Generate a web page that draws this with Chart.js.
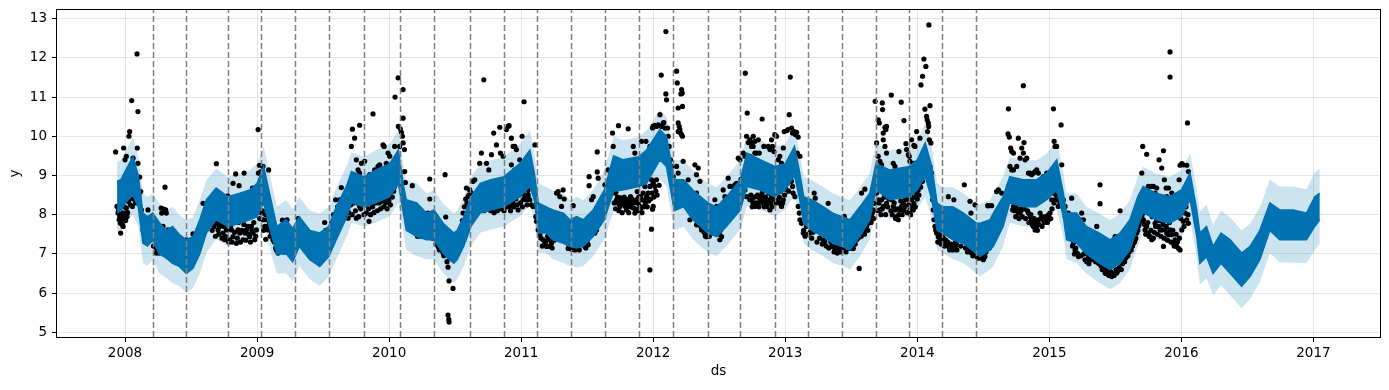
<!DOCTYPE html>
<html>
<head>
<meta charset="utf-8">
<script src="https://cdn.jsdelivr.net/npm/chart.js@4.4.0/dist/chart.umd.min.js"></script>
<style>
    html, body { margin: 0; padding: 0; background: white; }
</style>
</head>
<body>
<canvas id="grafico" width="1389" height="390"></canvas>
<script>
// eixos
const ticks_x = [2008, 2009, 2010, 2011, 2012, 2013, 2014, 2015, 2016, 2017];
const ticks_y = [5, 6, 7, 8, 9, 10, 11, 12, 13];

// pontos de mudanca (changepoints), em anos
const mudancas = [2008.210, 2008.465, 2008.778, 2009.033, 2009.291, 2009.543, 2009.813, 2010.080, 2010.338, 2010.614,
    2010.868, 2011.123, 2011.376, 2011.633, 2011.891, 2012.153, 2012.413, 2012.661, 2012.921, 2013.170,
    2013.428, 2013.685, 2013.935, 2014.190, 2014.448];

// previsao (yhat) - faixa escura e intervalo de incerteza
const datas_previsao = [2007.94, 2007.97, 2008.0, 2008.06, 2008.1, 2008.136, 2008.17, 2008.21, 2008.26, 2008.31,
    2008.36, 2008.41, 2008.465, 2008.515, 2008.566, 2008.616, 2008.69, 2008.778, 2008.87, 2008.944,
    2009.0, 2009.05, 2009.1, 2009.15, 2009.22, 2009.27, 2009.32, 2009.4, 2009.475, 2009.543,
    2009.6, 2009.68, 2009.715, 2009.81, 2009.9, 2010.005, 2010.07, 2010.11, 2010.13, 2010.21,
    2010.283, 2010.34, 2010.41, 2010.49, 2010.515, 2010.566, 2010.62, 2010.69, 2010.77, 2010.87,
    2010.99, 2011.066, 2011.1, 2011.13, 2011.19, 2011.24, 2011.32, 2011.37, 2011.42, 2011.47,
    2011.545, 2011.63, 2011.7, 2011.77, 2011.89, 2011.95, 2012.05, 2012.1, 2012.16, 2012.23,
    2012.3, 2012.414, 2012.48, 2012.555, 2012.66, 2012.71, 2012.81, 2012.92, 2013.0, 2013.07,
    2013.11, 2013.14, 2013.2, 2013.29, 2013.36, 2013.43, 2013.49, 2013.565, 2013.64, 2013.687,
    2013.79, 2013.94, 2014.0, 2014.06, 2014.11, 2014.15, 2014.19, 2014.27, 2014.35, 2014.45,
    2014.475, 2014.55, 2014.576, 2014.65, 2014.7, 2014.8, 2014.9, 2014.98, 2015.056, 2015.106,
    2015.13, 2015.207, 2015.28, 2015.38, 2015.46, 2015.535, 2015.61, 2015.67, 2015.71, 2015.81,
    2015.91, 2016.0, 2016.066, 2016.116, 2016.14, 2016.19, 2016.24, 2016.3, 2016.37, 2016.456,
    2016.52, 2016.594, 2016.67, 2016.745, 2016.846, 2016.947, 2017.01, 2017.048];
const previsao_alto = [8.85, 8.9, 9.1, 9.48, 9.0, 8.04, 7.95, 8.04, 7.8, 7.6,
    7.7, 7.5, 7.36, 7.44, 7.87, 8.38, 8.68, 8.46, 8.55, 8.63,
    8.8, 9.23, 8.46, 7.7, 7.87, 7.65, 7.95, 7.6, 7.53, 7.7,
    8.2, 8.75, 9.1, 8.97, 9.14, 9.3, 9.65, 8.72, 8.38, 8.3,
    8.04, 8.12, 7.78, 7.53, 7.6, 7.95, 8.46, 8.8, 8.89, 8.97,
    9.3, 9.65, 9.06, 8.3, 8.2, 8.12, 8.04, 7.87, 7.95, 7.87,
    8.12, 8.63, 9.5, 9.4, 9.48, 9.65, 10.17, 10.0, 8.9, 8.89,
    8.63, 8.3, 8.2, 8.46, 8.89, 9.57, 9.4, 9.23, 9.3, 9.74,
    9.06, 8.46, 8.38, 8.2, 8.04, 7.95, 7.87, 8.2, 8.55, 9.3,
    9.14, 9.23, 9.4, 9.83, 9.23, 8.3, 8.2, 8.2, 8.04, 7.78,
    7.78, 7.87, 8.04, 8.46, 8.97, 8.89, 8.89, 9.06, 9.4, 8.55,
    8.04, 8.04, 7.7, 7.53, 7.36, 7.53, 7.87, 8.46, 8.72, 8.55,
    8.46, 8.63, 9.06, 8.12, 7.53, 7.7, 7.19, 7.53, 7.36, 7.02,
    7.19, 7.6, 8.3, 8.12, 8.12, 8.04, 8.46, 8.55];
const previsao_baixo = [8.05, 8.1, 8.3, 8.5, 8.2, 7.27, 7.2, 7.35, 7.0, 6.9,
    6.76, 6.68, 6.5, 6.63, 7.0, 7.53, 7.87, 7.7, 7.78, 7.87,
    7.95, 8.3, 7.6, 7.0, 7.0, 6.8, 7.19, 6.85, 6.68, 6.93,
    7.36, 7.95, 8.3, 8.2, 8.3, 8.46, 8.8, 8.0, 7.6, 7.44,
    7.36, 7.36, 7.0, 6.76, 6.85, 7.2, 7.7, 8.04, 8.12, 8.2,
    8.46, 8.72, 8.38, 7.53, 7.53, 7.36, 7.27, 7.19, 7.15, 7.19,
    7.44, 7.87, 8.6, 8.63, 8.72, 8.8, 9.4, 9.23, 8.1, 8.2,
    7.87, 7.53, 7.44, 7.7, 8.12, 8.72, 8.63, 8.46, 8.63, 9.0,
    8.38, 7.78, 7.6, 7.44, 7.27, 7.19, 7.1, 7.44, 7.87, 8.63,
    8.38, 8.46, 8.63, 8.97, 8.38, 7.6, 7.53, 7.36, 7.27, 7.0,
    6.93, 7.1, 7.19, 7.7, 8.3, 8.2, 8.2, 8.38, 8.63, 7.95,
    7.36, 7.27, 7.0, 6.76, 6.6, 6.76, 7.1, 7.7, 8.05, 7.87,
    7.78, 7.95, 8.38, 7.45, 6.76, 6.93, 6.5, 6.76, 6.5, 6.17,
    6.42, 6.85, 7.6, 7.36, 7.36, 7.36, 7.7, 7.87];
const faixa_alto = [9.35, 9.4, 9.6, 9.98, 9.5, 8.54, 8.45, 8.54, 8.3, 8.1,
    8.2, 8.0, 7.86, 7.94, 8.37, 8.88, 9.18, 8.96, 9.05, 9.13,
    9.3, 9.73, 8.96, 8.2, 8.37, 8.15, 8.45, 8.1, 8.03, 8.2,
    8.7, 9.25, 9.6, 9.47, 9.64, 9.8, 10.15, 9.22, 8.88, 8.8,
    8.54, 8.62, 8.28, 8.03, 8.1, 8.45, 8.96, 9.3, 9.39, 9.47,
    9.8, 10.15, 9.56, 8.8, 8.7, 8.62, 8.54, 8.37, 8.45, 8.37,
    8.62, 9.13, 10.0, 9.9, 9.98, 10.15, 10.67, 10.5, 9.4, 9.39,
    9.13, 8.8, 8.7, 8.96, 9.39, 10.07, 9.9, 9.73, 9.8, 10.24,
    9.56, 8.96, 8.88, 8.7, 8.54, 8.45, 8.37, 8.7, 9.05, 9.8,
    9.64, 9.73, 9.9, 10.33, 9.73, 8.8, 8.7, 8.7, 8.54, 8.28,
    8.28, 8.37, 8.54, 8.96, 9.47, 9.39, 9.39, 9.56, 9.9, 9.05,
    8.54, 8.54, 8.2, 8.03, 7.86, 8.03, 8.37, 8.96, 9.22, 9.05,
    8.96, 9.13, 9.56, 8.65, 8.08, 8.25, 7.75, 8.1, 7.93, 7.6,
    7.77, 8.18, 8.9, 8.72, 8.72, 8.65, 9.08, 9.17];
const faixa_baixo = [7.55, 7.6, 7.8, 8.0, 7.7, 6.77, 6.7, 6.85, 6.5, 6.4,
    6.26, 6.18, 6.0, 6.13, 6.5, 7.03, 7.37, 7.2, 7.28, 7.37,
    7.45, 7.8, 7.1, 6.5, 6.5, 6.3, 6.69, 6.35, 6.18, 6.43,
    6.86, 7.45, 7.8, 7.7, 7.8, 7.96, 8.3, 7.5, 7.1, 6.94,
    6.86, 6.86, 6.5, 6.26, 6.35, 6.7, 7.2, 7.54, 7.62, 7.7,
    7.96, 8.22, 7.88, 7.03, 7.03, 6.86, 6.77, 6.69, 6.65, 6.69,
    6.94, 7.37, 8.1, 8.13, 8.22, 8.3, 8.9, 8.73, 7.6, 7.7,
    7.37, 7.03, 6.94, 7.2, 7.62, 8.22, 8.13, 7.96, 8.13, 8.5,
    7.88, 7.28, 7.1, 6.94, 6.77, 6.69, 6.6, 6.94, 7.37, 8.13,
    7.88, 7.96, 8.13, 8.47, 7.88, 7.1, 7.03, 6.86, 6.77, 6.5,
    6.43, 6.6, 6.69, 7.2, 7.8, 7.7, 7.7, 7.88, 8.13, 7.45,
    6.86, 6.77, 6.5, 6.26, 6.1, 6.26, 6.6, 7.2, 7.55, 7.37,
    7.28, 7.45, 7.88, 6.92, 6.21, 6.38, 5.95, 6.2, 5.94, 5.62,
    5.85, 6.28, 7.02, 6.78, 6.78, 6.76, 7.1, 7.25];

// observacoes [ano, y]
const pontos_2008 = [[2007.929,9.6],[2007.962,8.82],[2007.967,7.53],[2007.99,9.7],[2008.0,9.4],[2008.01,9.49],[2008.018,9.0],
    [2008.03,10.0],[2008.035,10.12],[2008.051,10.91],[2008.061,9.44],[2008.091,12.1],[2008.098,10.63],[2008.093,9.7],
    [2008.098,9.31],[2008.111,8.96],[2008.119,8.59],
    [2007.939,8.21],[2007.947,8.04],[2007.955,7.87],[2007.965,7.78],[2007.977,7.87],[2007.99,7.95],[2008.0,8.04],
    [2008.01,8.17],[2008.023,8.34],[2008.035,8.46],[2008.048,8.55],[2008.061,8.59],[2008.073,8.55],[2008.086,8.46],
    [2008.056,8.21],[2008.03,8.38],[2007.985,7.7],[2008.015,7.95],
    [2007.95,8.1],[2007.96,7.95],[2007.975,8.05],[2007.98,7.75],[2007.995,8.2],[2008.005,7.85],[2008.02,8.05],
    [2008.025,8.6],[2008.04,8.25],[2008.045,8.7],[2008.065,8.4],[2008.07,8.65],[2008.08,8.3],[2008.09,8.6],
    [2008.1,8.35],[2008.105,8.5],
    [2008.124,8.12],[2008.136,7.61],[2008.149,7.36],[2008.162,7.53],[2008.174,8.12],[2008.182,7.87],[2008.2,7.36],
    [2008.237,7.14],[2008.237,7.02],[2008.258,7.02],[2008.278,8.04],[2008.288,7.7],[2008.303,8.7],[2008.273,8.17],
    [2008.293,8.14],[2008.308,8.12],[2008.313,8.04],[2008.326,7.61],[2008.338,7.19],[2008.364,7.44],[2008.389,7.49],
    [2008.414,7.23],[2008.439,7.19],[2008.465,7.36],[2008.477,7.23],[2008.515,7.51],
    [2008.215,7.2],[2008.225,7.45],[2008.25,7.3],[2008.265,7.1],[2008.35,7.3],[2008.375,7.35],[2008.4,7.15],
    [2008.425,7.3],[2008.45,7.1],[2008.49,7.3],[2008.5,7.2],[2008.53,7.3],
    [2008.591,8.29],[2008.604,8.04],[2008.629,8.0],[2008.692,9.3],
    [2008.667,7.87],[2008.692,7.78],[2008.717,7.7],[2008.742,7.53],[2008.768,7.61],[2008.793,7.36],[2008.818,7.44],
    [2008.843,7.27],[2008.869,7.53],[2008.894,7.36],[2008.919,7.61],[2008.944,7.44],[2008.97,7.53],[2008.995,7.61],
    [2008.982,7.36],[2008.705,7.61],[2008.755,7.36],[2008.806,7.61],[2008.856,7.61],[2008.907,7.53],[2008.957,7.7],
    [2008.66,7.6],[2008.675,7.7],[2008.685,7.45],[2008.7,7.9],[2008.71,7.5],[2008.725,7.8],[2008.735,7.4],
    [2008.75,7.7],[2008.76,7.45],[2008.78,7.8],[2008.785,7.3],[2008.8,7.7],[2008.81,7.3],[2008.83,7.55],
    [2008.85,7.4],[2008.86,7.8],[2008.875,7.3],[2008.885,7.6],[2008.9,7.75],[2008.915,7.35],[2008.93,7.7],
    [2008.935,7.5],[2008.95,7.3],[2008.96,7.6],[2008.975,7.8],[2008.99,7.45],
    [2008.778,8.48],[2008.818,8.8],[2008.838,9.04],[2008.864,8.74],[2008.902,9.06],[2008.919,8.51],[2008.949,8.4],
    [2008.965,8.68],[2008.98,8.59],
    [2009.008,10.17],[2009.01,9.06],[2009.018,9.26],[2009.03,9.1],[2009.045,9.23],[2009.088,9.14],
    [2009.033,8.04],[2009.045,7.87],[2009.058,7.7],[2009.071,7.87],[2009.083,7.61],[2009.096,7.78],[2009.109,7.53],
    [2009.121,7.36],[2009.066,7.37],[2009.02,7.9],[2009.04,8.1],[2009.05,7.6],[2009.065,8.0],[2009.075,7.7],
    [2009.09,7.95],[2009.1,7.45],[2009.115,7.7],
    [2009.146,7.1],[2009.159,7.02],[2009.172,7.19],[2009.197,7.19],[2009.21,7.36],
    [2009.192,7.86],[2009.227,7.87],[2009.26,7.61],[2009.28,7.6],[2009.311,7.9],
    [2009.13,7.3],[2009.14,7.15],[2009.165,7.1],[2009.18,7.3],[2009.205,7.05],[2009.22,7.2],[2009.24,7.4],
    [2009.25,7.3],[2009.27,7.45],[2009.29,7.35],[2009.3,7.55]];

const pontos_2009 = [[2009.348,7.53],[2009.399,7.53],[2009.436,7.49],[2009.462,7.44],[2009.5,7.53],[2009.512,7.8],
    [2009.33,7.5],[2009.36,7.45],[2009.375,7.35],[2009.39,7.45],[2009.41,7.5],[2009.425,7.4],[2009.45,7.45],
    [2009.475,7.35],[2009.49,7.45],[2009.52,7.6],[2009.535,7.55],[2009.55,7.65],[2009.565,7.8],[2009.58,8.0],
    [2009.61,8.2],[2009.62,8.05],
    [2009.588,7.91],[2009.575,7.7],[2009.595,8.38],[2009.626,8.38],[2009.638,8.69],
    [2009.651,8.12],[2009.676,8.04],[2009.689,8.21],[2009.702,8.38],[2009.714,8.59],[2009.689,7.91],[2009.752,7.91],
    [2009.777,8.21],[2009.803,8.38],[2009.828,8.04],[2009.848,7.83],[2009.866,8.29],[2009.891,8.38],[2009.916,8.46],
    [2009.941,8.34],[2009.967,8.38],[2009.992,8.46],[2010.005,8.51],[2010.017,8.63],
    [2009.66,8.3],[2009.67,7.95],[2009.685,8.35],[2009.695,8.05],[2009.71,8.25],[2009.72,8.0],[2009.73,8.3],
    [2009.745,8.1],[2009.76,8.3],[2009.77,7.95],[2009.785,8.15],[2009.795,8.45],[2009.81,8.0],[2009.82,8.25],
    [2009.835,8.4],[2009.845,8.15],[2009.86,8.0],[2009.875,8.2],[2009.885,8.05],[2009.9,8.3],[2009.91,8.1],
    [2009.925,8.3],[2009.935,8.15],[2009.95,8.4],[2009.96,8.2],[2009.975,8.3],[2009.985,8.15],[2009.998,8.35],
    [2010.01,8.25],[2010.025,8.45],[2010.035,8.6],
    [2009.714,9.74],[2009.722,10.18],[2009.739,9.95],[2009.777,10.28],[2009.752,9.4],[2009.765,9.14],[2009.777,9.06],
    [2009.79,9.31],[2009.815,9.36],[2009.853,9.02],[2009.878,10.57],[2009.891,9.14],[2009.916,9.23],[2009.929,9.27],
    [2009.954,9.78],[2009.962,9.74],[2009.979,9.31],[2009.992,9.57],[2010.005,9.49],[2010.042,9.74],[2010.045,11.0],
    [2010.068,11.49],[2010.106,11.19],[2010.07,10.25],[2010.085,10.19],[2010.093,10.1],[2010.101,10.0],[2010.106,10.46],
    [2010.106,9.83],[2010.116,9.66],[2010.118,9.1],[2010.123,8.82],[2010.08,9.74],[2010.055,8.89],[2010.042,8.72],
    [2010.151,8.29],[2010.176,8.74],[2010.194,8.04],[2010.207,7.87],[2010.219,7.61],[2010.232,7.53],[2010.244,7.7],
    [2010.257,7.95],[2010.27,7.61],[2010.282,7.53],[2010.295,8.04],[2010.308,8.91],[2010.308,8.4],[2010.32,7.95],
    [2010.338,7.61],[2010.358,7.36],[2010.371,7.19],[2010.383,7.19],[2010.396,7.1],[2010.409,7.02],[2010.424,9.02],
    [2010.429,7.94],[2010.439,6.8],[2010.446,6.66],[2010.454,6.31],[2010.484,6.12],[2010.446,5.44],[2010.452,5.33],
    [2010.454,5.26],[2010.472,6.93],[2010.484,6.85],[2010.497,6.93],[2010.51,7.02],[2010.522,7.27],[2010.535,7.36],
    [2010.548,7.7],[2010.56,8.04],[2010.585,8.68],[2010.598,8.46],[2010.611,8.63],[2010.623,8.55],[2010.636,8.85],
    [2010.649,8.89],
    [2010.14,8.0],[2010.16,7.8],[2010.18,7.7],[2010.2,7.55],[2010.215,7.45],[2010.225,7.7],[2010.24,7.45],
    [2010.26,7.6],[2010.275,7.45],[2010.29,7.7],[2010.3,7.45],[2010.315,7.6],[2010.33,7.4],[2010.345,7.5],
    [2010.355,7.25],[2010.365,7.4],[2010.38,7.1],[2010.39,7.3],[2010.405,7.15],[2010.415,6.95],[2010.43,7.0],
    [2010.46,6.9],[2010.475,7.0],[2010.49,6.95],[2010.5,7.1],[2010.515,7.15],[2010.53,7.4],[2010.54,7.55],
    [2010.555,7.85],[2010.57,8.2],[2010.58,8.4],[2010.59,8.3],[2010.605,8.5],
    [2010.686,8.29],[2010.712,8.21],[2010.737,8.25],[2010.762,8.21],[2010.8,8.12],[2010.825,8.21],[2010.863,8.29],
    [2010.888,8.55],[2010.914,8.21],[2010.939,8.29],[2010.977,8.12],[2011.015,8.38],[2011.053,8.63],[2010.699,8.55],
    [2010.775,8.38],[2010.813,8.46],[2010.914,8.42],
    [2010.66,8.4],[2010.675,8.15],[2010.69,8.45],[2010.705,8.3],[2010.72,8.1],[2010.73,8.4],[2010.745,8.15],
    [2010.75,8.45],[2010.77,8.1],[2010.785,8.3],[2010.795,8.05],[2010.805,8.35],[2010.82,8.1],[2010.83,8.4],
    [2010.85,8.15],[2010.855,8.45],[2010.87,8.1],[2010.88,8.35],[2010.895,8.2],[2010.905,8.5],[2010.92,8.1],
    [2010.935,8.45],[2010.945,8.2],[2010.96,8.4],[2010.97,8.25],[2010.985,8.5],[2010.995,8.3],[2011.01,8.2],
    [2011.035,8.45],[2011.045,8.25],
    [2010.686,9.31],[2010.699,9.57],[2010.717,11.44],[2010.737,9.31],[2010.755,9.14],[2010.775,9.53],[2010.792,10.08],
    [2010.813,9.78],[2010.838,10.23],[2010.843,9.57],[2010.863,9.49],[2010.888,10.17],[2010.901,10.25],[2010.909,10.27],
    [2010.926,9.95],[2010.939,9.74],[2010.952,9.74],[2010.964,9.66],[2010.926,9.27],[2010.952,9.14],[2010.977,9.1],
    [2010.989,9.4],[2011.007,10.0],[2011.022,10.88],[2011.015,9.06],[2011.027,8.89],[2011.04,8.72],[2011.053,8.46]];

const pontos_2011 = [[2011.003,8.72],[2011.015,8.55],[2011.028,8.46],[2011.041,8.38],[2011.053,8.51],[2011.066,8.38],
    [2011.078,8.25],[2011.091,8.21],[2011.104,8.55],[2011.091,8.72],[2011.104,9.78],[2011.111,7.95],[2011.116,7.83],
    [2011.129,7.61],[2011.142,7.49],[2011.167,7.36],[2011.179,7.27],[2011.192,7.19],[2011.205,7.36],[2011.217,7.19],
    [2011.23,7.27],[2011.243,7.53],[2011.255,7.53],[2011.268,8.55],[2011.28,8.59],[2011.293,8.46],[2011.306,8.21],
    [2011.318,8.63],[2011.326,8.4],[2011.313,7.53],[2011.331,7.61],[2011.344,7.36],[2011.356,7.14],[2011.369,7.14],
    [2011.381,7.12],[2011.394,7.12],[2011.407,7.1],[2011.419,7.14],[2011.394,8.23],[2011.432,7.19],[2011.457,7.36],
    [2011.482,7.19],[2011.508,7.23],[2011.515,8.74],[2011.515,8.97],[2011.533,8.38],[2011.546,8.46],[2011.558,7.53],
    [2011.571,7.61],[2011.576,9.09],[2011.576,9.6],[2011.583,8.93],[2011.596,8.04],[2011.609,8.21],[2011.621,8.46],
    [2011.634,8.76],[2011.659,9.14],[2011.672,8.46],[2011.684,8.59],
    [2011.15,7.4],[2011.16,7.2],[2011.185,7.3],[2011.2,7.45],[2011.225,7.35],[2011.235,7.15],[2011.25,7.35],
    [2011.36,7.25],[2011.375,7.2],[2011.4,7.2],[2011.415,7.25],[2011.44,7.1],[2011.45,7.25],[2011.47,7.3],
    [2011.49,7.15],[2011.5,7.3],
    [2011.697,9.74],[2011.71,8.55],[2011.722,8.38],[2011.735,8.29],[2011.748,8.21],[2011.76,8.38],[2011.773,8.34],
    [2011.785,8.29],[2011.798,8.12],[2011.811,8.21],[2011.823,8.38],[2011.836,8.29],[2011.849,8.17],[2011.861,8.04],
    [2011.874,8.38],[2011.886,8.29],[2011.899,8.21],[2011.912,8.38],[2011.924,8.55],[2011.937,8.72],[2011.95,8.46],
    [2011.962,8.55],[2011.975,8.72],[2011.987,8.89],[2012.0,8.8],[2012.013,8.72],[2012.025,8.89],[2011.717,8.57],
    [2011.753,8.43],[2011.793,8.4],[2011.828,8.46],[2011.879,8.59],[2011.904,8.46],[2011.929,8.38],
    [2011.705,8.3],[2011.715,8.15],[2011.73,8.45],[2011.74,8.1],[2011.755,8.25],[2011.765,8.05],[2011.78,8.45],
    [2011.79,8.2],[2011.805,8.3],[2011.815,8.05],[2011.83,8.2],[2011.84,8.4],[2011.855,8.3],[2011.865,8.15],
    [2011.88,8.1],[2011.89,8.45],[2011.905,8.15],[2011.915,8.05],[2011.93,8.2],[2011.94,8.3],[2011.955,8.2],
    [2011.965,8.35],[2011.98,8.4],[2011.99,8.55],[2012.005,8.45],[2012.02,8.6],[2012.03,8.5],[2012.045,8.75],
    [2011.692,10.08],[2011.737,10.27],[2011.811,10.19],[2011.849,9.74],[2011.861,9.57],[2011.874,9.36],[2011.912,9.87],
    [2011.924,9.49],[2011.945,9.87],[2011.962,9.61],[2011.975,9.74],[2011.995,10.21],[2012.0,10.25],[2012.013,10.28],
    [2012.025,10.25],[2012.038,10.29],[2012.051,10.55],[2012.063,10.25],[2012.076,10.34],[2012.081,10.35],
    [2012.088,10.21],[2012.101,10.93],[2012.096,11.08],[2012.061,11.56],[2012.096,12.67],[2012.109,10.21],
    [2011.987,7.63],[2011.975,6.59],[2011.995,8.14],[2012.0,8.21],
    [2012.114,10.0],[2012.121,9.74],[2012.131,9.4],[2012.139,9.23],[2012.152,8.97],[2012.159,8.76],[2012.177,11.66],
    [2012.182,11.36],[2012.215,11.19],[2012.22,11.1],[2012.21,11.08],[2012.189,10.72],[2012.222,10.76],[2012.189,10.34],
    [2012.197,10.25],[2012.202,10.17],[2012.215,10.04],[2012.222,10.0],[2012.189,10.12],[2012.207,10.08],[2012.227,9.36],
    [2012.177,9.23],[2012.189,9.06],[2012.202,8.72],[2012.215,8.46],[2012.24,8.72],[2012.253,8.55],[2012.265,8.89],
    [2012.278,8.63],[2012.291,8.55],[2012.316,9.27],[2012.328,9.02],[2012.341,9.19],[2012.354,8.85],[2012.328,8.55],
    [2012.341,8.29],[2012.303,8.04],[2012.316,7.91],[2012.278,7.87],[2012.328,7.74],[2012.354,7.83],[2012.366,7.61],
    [2012.379,7.61],[2012.392,7.53],[2012.404,7.44],[2012.417,7.53],[2012.429,7.61],[2012.442,7.53],[2012.455,8.04],
    [2012.467,8.38],[2012.48,8.21],[2012.493,7.7],[2012.505,7.36],[2012.518,7.44],[2012.53,8.63],[2012.543,8.46],
    [2012.568,8.93],[2012.581,8.72],[2012.593,8.04],[2012.606,8.72],[2012.619,8.76],[2012.631,8.8],[2012.644,9.44],
    [2012.657,9.4],
    [2012.36,7.7],[2012.385,7.55],[2012.395,7.45],[2012.41,7.6],[2012.425,7.45],[2012.435,7.55],[2012.45,7.6],
    [2012.46,7.75],[2012.475,7.6],[2012.5,7.5],[2012.51,7.6],[2012.525,7.7],[2012.54,7.9],[2012.55,8.0],
    [2012.56,8.1],[2012.575,8.2],[2012.59,8.3],[2012.6,8.4],[2012.615,8.45],[2012.625,8.5],[2012.64,8.6],
    [2012.65,8.75],[2012.665,8.9],
    [2012.697,11.61],[2012.712,10.59],[2012.707,10.0],[2012.72,9.84],[2012.732,9.91],[2012.745,9.74],[2012.758,10.0],
    [2012.796,9.91],[2012.77,9.57],[2012.682,9.57],[2012.695,9.49],
    [2012.682,8.8],[2012.695,8.63],[2012.707,8.46],[2012.732,8.38],[2012.758,8.29],[2012.783,8.46],[2012.808,8.38]];

const pontos_2013 = [[2012.825,10.44],[2012.732,9.49],[2012.745,9.83],[2012.757,9.74],[2012.77,9.87],[2012.783,9.57],
    [2012.803,9.57],[2012.808,9.31],[2012.838,9.74],[2012.853,9.27],[2012.871,9.74],[2012.884,9.66],[2012.896,9.91],
    [2012.904,9.74],[2012.914,9.61],[2012.921,10.04],[2012.934,10.0],[2012.947,9.4],[2012.959,9.49],[2012.972,9.31],
    [2012.985,9.7],[2012.992,10.12],[2013.01,10.14],[2013.022,10.17],[2013.03,10.55],[2013.038,11.51],[2013.048,10.21],
    [2013.055,10.08],[2013.068,10.12],[2013.078,10.04],[2013.086,10.1],[2013.098,9.98],[2013.091,9.57],
    [2012.745,8.38],[2012.757,8.29],[2012.77,8.21],[2012.795,8.29],[2012.82,8.46],[2012.833,8.29],[2012.846,8.38],
    [2012.858,8.21],[2012.871,8.29],[2012.884,8.12],[2012.878,8.38],[2012.896,8.46],[2012.909,8.72],[2012.921,8.63],
    [2012.934,9.06],[2012.947,8.38],[2012.959,8.29],[2012.972,8.21],[2012.985,8.38],[2012.979,8.72],[2013.035,9.06],
    [2013.048,8.85],[2013.06,8.55],[2013.073,8.46],[2013.055,8.72],[2013.111,9.49],
    [2012.74,8.5],[2012.75,8.2],[2012.765,8.45],[2012.775,8.3],[2012.79,8.5],[2012.8,8.2],[2012.815,8.35],
    [2012.825,8.55],[2012.84,8.2],[2012.85,8.45],[2012.865,8.35],[2012.875,8.55],[2012.89,8.3],[2012.9,8.2],
    [2012.915,8.4],[2012.93,8.3],[2012.94,8.55],[2012.955,8.45],[2012.965,8.6],[2012.98,8.3],[2012.995,8.5],
    [2013.005,8.65],[2013.015,8.8],[2013.025,8.6],[2013.04,8.9],
    [2013.098,8.21],[2013.106,8.04],[2013.111,7.87],[2013.123,7.78],[2013.136,7.53],[2013.161,7.7],[2013.187,7.53],
    [2013.192,7.57],[2013.219,8.55],[2013.227,8.42],[2013.237,7.87],[2013.25,8.04],[2013.262,7.61],[2013.275,7.53],
    [2013.288,7.36],[2013.3,7.31],[2013.313,7.49],[2013.325,8.29],[2013.338,7.95],[2013.351,7.19],[2013.363,7.19],
    [2013.376,7.1],[2013.394,7.02],[2013.414,7.19],[2013.429,7.31],[2013.447,7.96],[2013.49,7.14],[2013.515,7.14],
    [2013.54,7.36],[2013.56,6.63],[2013.565,7.44],[2013.578,8.55],[2013.603,8.65],[2013.591,7.53],[2013.603,7.61],
    [2013.616,7.7],[2013.628,7.78],[2013.641,7.87],[2013.654,7.95],[2013.666,8.12],[2013.674,8.29],[2013.681,8.55],
    [2013.14,7.6],[2013.15,7.45],[2013.17,7.5],[2013.2,7.4],[2013.21,7.55],[2013.24,7.3],[2013.26,7.4],
    [2013.28,7.25],[2013.31,7.2],[2013.33,7.15],[2013.345,7.3],[2013.37,7.05],[2013.385,7.2],[2013.4,7.1],
    [2013.42,7.05],[2013.44,7.15],[2013.46,7.05],[2013.475,7.2],[2013.5,7.2],[2013.52,7.3],[2013.53,7.25],
    [2013.55,7.4],[2013.575,7.45],[2013.585,7.6],[2013.6,7.5],[2013.61,7.8],[2013.625,7.6],[2013.635,7.95],
    [2013.65,7.8],[2013.66,8.05],[2013.67,7.9],
    [2013.681,10.89],[2013.704,10.42],[2013.712,10.34],[2013.735,10.85],[2013.737,10.68],[2013.755,10.23],
    [2013.762,10.17],[2013.767,10.25],[2013.742,9.91],[2013.755,9.74],[2013.767,9.57],[2013.742,10.08],[2013.692,9.83],
    [2013.704,9.49],[2013.717,9.36],[2013.73,9.27],[2013.747,8.89],[2013.767,9.06],[2013.78,8.97],[2013.803,11.05],
    [2013.818,9.31],[2013.831,9.23],[2013.843,9.06],[2013.861,9.61],[2013.878,10.87],[2013.899,10.4],[2013.914,9.81],
    [2013.919,9.66],[2013.932,9.53],[2013.939,9.49],[2013.944,9.36],[2013.957,9.91],[2013.969,9.31],[2013.974,9.77],
    [2013.982,9.74],[2013.987,9.31],[2013.995,10.12],[2014.02,9.95],[2014.028,11.31],[2014.04,11.53],[2014.05,11.97],
    [2014.065,11.78],[2014.088,12.84],[2014.058,10.69],[2014.096,10.78],[2014.07,10.51],[2014.075,10.42],
    [2014.083,10.34],[2014.086,10.25],[2014.078,10.12],[2014.091,9.91],[2014.103,9.83],
    [2013.692,8.55],[2013.704,8.38],[2013.717,8.12],[2013.73,8.38],[2013.742,8.21],[2013.767,8.29],[2013.793,8.55],
    [2013.805,8.38],[2013.818,8.21],[2013.831,8.12],[2013.843,7.95],[2013.856,7.87],[2013.868,8.12],[2013.881,8.21],
    [2013.894,8.29],[2013.906,8.21],[2013.919,8.38],[2013.932,8.46],[2013.944,8.12],[2013.957,8.38],[2013.969,8.12],
    [2013.974,8.29],[2013.995,8.55],[2014.007,8.63],[2014.02,8.8],[2014.033,8.97],[2014.045,9.14],[2014.058,9.23],
    [2013.7,8.1],[2013.71,8.3],[2013.725,8.0],[2013.735,8.15],[2013.75,8.45],[2013.76,8.0],[2013.775,8.2],
    [2013.785,8.4],[2013.8,8.1],[2013.81,8.0],[2013.825,8.3],[2013.835,7.9],[2013.85,8.15],[2013.86,8.0],
    [2013.875,8.35],[2013.885,8.0],[2013.9,8.1],[2013.91,8.4],[2013.925,8.05],[2013.935,8.25],[2013.95,8.0],
    [2013.96,8.2],[2013.975,8.45],[2013.985,8.2],[2014.0,8.4],[2014.012,8.5],[2014.025,8.7],[2014.04,8.85],
    [2014.05,9.0],
    [2014.096,9.23],[2014.108,9.06],[2014.108,8.72],[2014.116,8.38],[2014.121,8.12],[2014.126,7.87],[2014.134,7.7],
    [2014.146,7.53],[2014.159,7.44],[2014.172,7.36],[2014.184,7.36],[2014.197,7.4],[2014.209,7.31],[2014.222,7.23],
    [2014.235,7.19],[2014.247,7.19],[2014.26,7.14],[2014.273,7.19],[2014.285,7.19],[2014.298,7.23],[2014.31,7.44],
    [2014.323,7.36],[2014.336,7.61],[2014.348,7.53],[2014.361,7.36],[2014.373,7.27],[2014.386,7.14],[2014.399,7.06],
    [2014.411,7.02],[2014.424,7.02],[2014.437,7.02],[2014.449,6.93],[2014.462,6.89],[2014.474,7.02],[2014.487,6.89],
    [2014.5,6.85],[2014.512,6.93],[2014.235,8.46],[2014.277,8.38],[2014.356,8.76],[2014.399,8.34],[2014.406,8.04],
    [2014.437,8.25],[2014.469,7.7],[2014.533,8.23],
    [2014.14,7.6],[2014.155,7.3],[2014.165,7.5],[2014.18,7.25],[2014.19,7.45],[2014.205,7.2],[2014.215,7.35],
    [2014.23,7.3],[2014.245,7.1],[2014.255,7.25],[2014.27,7.1],[2014.29,7.3],[2014.3,7.1],[2014.33,7.2],
    [2014.345,7.4],[2014.365,7.15],[2014.38,7.05],[2014.395,7.2],[2014.42,6.95],[2014.43,7.1],[2014.455,7.0],
    [2014.48,6.95],[2014.495,7.05],[2014.505,6.9]];

const pontos_2015 = [[2014.525,7.19],[2014.538,7.27],[2014.551,7.36],[2014.563,7.53],[2014.576,7.61],[2014.589,7.78],
    [2014.601,7.87],[2014.614,7.95],[2014.627,8.04],[2014.639,8.21],[2014.652,8.04],[2014.538,8.23],[2014.563,8.23],
    [2014.601,8.59],[2014.614,8.63],[2014.639,8.55],[2014.664,8.38],[2014.677,8.38],[2014.69,8.72],[2014.702,8.8],
    [2014.52,7.05],[2014.545,7.15],[2014.57,7.4],[2014.58,7.5],[2014.595,7.65],[2014.607,7.75],[2014.62,7.85],
    [2014.632,8.0],[2014.645,8.1],[2014.66,8.2],[2014.67,8.3],
    [2014.728,8.21],[2014.722,8.12],[2014.74,8.21],[2014.753,8.12],[2014.765,8.04],[2014.778,8.04],[2014.791,8.17],
    [2014.803,8.38],[2014.816,8.29],[2014.829,8.29],[2014.841,8.04],[2014.854,7.95],[2014.866,7.87],[2014.879,7.7],
    [2014.892,7.61],[2014.904,7.7],[2014.917,7.87],[2014.93,8.04],[2014.942,7.95],[2014.955,7.87],[2014.967,7.87],
    [2014.98,7.95],[2014.993,7.87],[2015.005,8.04],[2015.018,8.38],[2015.031,8.55],[2015.043,8.38],[2015.056,8.38],
    [2015.068,8.21],[2015.081,8.29],
    [2014.735,8.1],[2014.745,7.95],[2014.76,8.15],[2014.77,7.9],[2014.785,8.1],[2014.795,7.95],[2014.81,8.15],
    [2014.82,7.9],[2014.835,8.1],[2014.845,7.8],[2014.86,8.0],[2014.87,7.75],[2014.885,7.9],[2014.895,7.8],
    [2014.91,7.6],[2014.92,7.75],[2014.935,7.9],[2014.945,7.7],[2014.96,7.8],[2014.97,7.95],[2014.985,7.8],
    [2014.995,8.0],[2015.01,7.9],[2015.02,8.15],[2015.035,8.3],[2015.05,8.5],
    [2014.69,10.7],[2014.687,10.06],[2014.697,9.98],[2014.707,9.7],[2014.715,9.61],[2014.728,9.57],[2014.702,9.23],
    [2014.715,9.14],[2014.728,9.14],[2014.753,9.23],[2014.765,9.95],[2014.778,9.44],[2014.791,9.7],[2014.803,11.29],
    [2014.803,9.57],[2014.808,9.84],[2014.816,9.4],[2014.829,9.44],[2014.841,9.06],[2014.854,9.06],[2014.866,9.02],
    [2014.879,9.06],[2014.892,9.1],[2014.904,9.14],[2014.917,9.06],[2014.93,8.89],[2014.942,8.85],[2014.955,8.97],
    [2014.967,8.85],[2014.98,9.06],[2015.031,10.7],[2015.036,9.87],[2015.043,9.74],[2015.056,9.74],[2015.089,10.29],
    [2015.094,9.27],[2015.068,8.63],[2015.081,8.55],
    [2015.106,8.38],[2015.119,8.21],[2015.132,7.87],[2015.144,8.04],[2015.157,7.53],[2015.169,7.57],[2015.169,8.42],
    [2015.182,7.27],[2015.195,7.1],[2015.207,7.02],[2015.22,6.93],[2015.233,7.87],[2015.245,8.04],[2015.258,7.87],
    [2015.27,6.85],[2015.283,6.8],[2015.296,6.93],[2015.308,6.85],[2015.321,7.02],[2015.334,7.1],[2015.346,6.93],
    [2015.359,7.7],[2015.371,6.76],[2015.384,8.76],[2015.384,8.28],[2015.397,7.36],[2015.409,7.27],[2015.422,6.51],
    [2015.435,6.59],[2015.447,6.46],[2015.46,6.68],[2015.472,6.42],[2015.485,7.36],[2015.498,7.44],[2015.51,6.51],
    [2015.523,6.59],[2015.536,8.1],[2015.548,6.76],[2015.561,6.85],[2015.573,6.93],[2015.586,7.02],[2015.599,7.1],
    [2015.611,7.19],[2015.624,7.19],[2015.637,7.27],[2015.649,7.36],[2015.662,7.53],[2015.674,7.7],[2015.687,7.87],
    [2015.7,7.95],[2015.712,8.04],
    [2015.12,7.95],[2015.14,7.6],[2015.15,7.4],[2015.175,7.2],[2015.19,7.0],[2015.2,7.15],[2015.215,7.0],
    [2015.24,6.95],[2015.26,7.0],[2015.29,6.85],[2015.3,6.75],[2015.315,6.9],[2015.33,6.85],[2015.35,6.8],
    [2015.365,6.9],[2015.39,6.7],[2015.4,6.6],[2015.415,6.65],[2015.43,6.5],[2015.44,6.55],[2015.455,6.45],
    [2015.465,6.55],[2015.48,6.5],[2015.49,6.45],[2015.505,6.6],[2015.515,6.55],[2015.53,6.65],[2015.545,6.6],
    [2015.555,6.75],[2015.57,6.8],[2015.58,6.9],[2015.595,6.95],[2015.605,7.05],[2015.62,7.1],[2015.63,7.2],
    [2015.645,7.3],[2015.655,7.4],[2015.67,7.6],[2015.68,7.75],[2015.695,7.85],
    [2015.7,9.06],[2015.707,9.74],[2015.737,9.54],[2015.75,8.72],[2015.763,8.55],[2015.775,8.72],[2015.788,8.72],
    [2015.801,8.55],[2015.813,8.68],[2015.831,9.4],[2015.851,9.19],[2015.864,9.63],[2015.871,8.89],[2015.884,8.68],
    [2015.889,8.46],[2015.902,8.68],[2015.914,12.15],[2015.914,11.51],[2015.927,8.55],[2015.94,8.38],[2015.952,8.21],
    [2015.983,8.89],[2015.99,9.26],[2016.003,9.3],[2016.015,9.27],[2016.041,9.26],[2016.046,10.34],[2016.053,9.1],
    [2015.712,7.87],[2015.725,7.61],[2015.737,7.7],[2015.75,7.53],[2015.763,7.44],[2015.775,7.36],[2015.788,7.4],
    [2015.801,7.78],[2015.813,7.87],[2015.826,7.7],[2015.839,7.61],[2015.851,7.61],[2015.864,7.19],[2015.877,7.61],
    [2015.889,7.53],[2015.902,7.49],[2015.914,7.61],[2015.927,7.49],[2015.94,7.27],[2015.952,7.36],[2015.965,7.19],
    [2015.978,7.14],[2015.99,7.1],[2016.003,7.61],[2016.015,7.83],[2016.028,8.04],[2016.041,7.87],[2016.053,7.78],
    [2015.99,8.21],[2015.978,8.46],
    [2015.72,7.75],[2015.73,7.5],[2015.745,7.8],[2015.755,7.45],[2015.77,7.6],[2015.78,7.95],[2015.795,7.55],
    [2015.805,7.7],[2015.82,7.5],[2015.835,7.85],[2015.845,7.45],[2015.86,7.75],[2015.87,7.4],[2015.885,7.7],
    [2015.895,7.35],[2015.91,7.8],[2015.92,7.3],[2015.935,7.6],[2015.945,7.2],[2015.96,7.5],[2015.97,7.3],
    [2015.985,7.4],[2015.995,7.9],[2016.01,8.1],[2016.02,7.7],[2016.035,8.2],[2016.05,8.0]];


function juntar(xs, ys) {
    return xs.map(function (x, i) { return { x: x, y: ys[i] }; });
}

function pontos(lista) {
    return lista.map(function (p) { return { x: p[0], y: p[1] }; });
}

var todos_pontos = pontos(pontos_2008).concat(pontos(pontos_2009), pontos(pontos_2011), pontos(pontos_2013), pontos(pontos_2015));

// linhas tracejadas das mudancas
const linhas_mudanca = {
    id: 'linhas_mudanca',
    afterDatasetsDraw(chart) {
        const ctx = chart.ctx;
        const area = chart.chartArea;
        const escala = chart.scales.x;
        ctx.save();
        ctx.strokeStyle = 'gray';
        ctx.lineWidth = 1.5;
        ctx.setLineDash([6, 3]);
        mudancas.forEach(function (d) {
            const px = Math.round(escala.getPixelForValue(d)) + 0.5;
            ctx.beginPath();
            ctx.moveTo(px, area.bottom);
            ctx.lineTo(px, area.top);
            ctx.stroke();
        });
        ctx.restore();
    }
};

// moldura em volta da area
const moldura = {
    id: 'moldura',
    afterDraw(chart) {
        const ctx = chart.ctx;
        const a = chart.chartArea;
        ctx.save();
        ctx.strokeStyle = 'black';
        ctx.lineWidth = 1;
        ctx.strokeRect(Math.round(a.left) - 0.5, Math.round(a.top) - 0.5, Math.round(a.right - a.left) + 1, Math.round(a.bottom - a.top) + 1);
        ctx.restore();
    }
};

const fonte = { family: 'DejaVu Sans', size: 13.5 };
const cor_grade = 'rgba(128,128,128,0.2)';

// GRAFICO
new Chart(document.getElementById('grafico'), {
    type: 'line',
    data: {
        datasets: [{
            data: juntar(datas_previsao, faixa_alto),
            borderWidth: 0,
            pointRadius: 0,
            backgroundColor: 'rgba(0,114,178,0.2)',
            fill: '+1',
            order: 3
        }, {
            data: juntar(datas_previsao, faixa_baixo),
            borderWidth: 0,
            pointRadius: 0,
            fill: false,
            order: 3
        }, {
            data: todos_pontos,
            showLine: false,
            pointRadius: 2.6,
            pointBorderWidth: 0,
            pointBackgroundColor: 'black',
            order: 2
        }, {
            data: juntar(datas_previsao, previsao_alto),
            borderColor: '#0072B2',
            borderWidth: 1.5,
            pointRadius: 0,
            backgroundColor: '#0072B2',
            fill: '+1',
            order: 1
        }, {
            data: juntar(datas_previsao, previsao_baixo),
            borderColor: '#0072B2',
            borderWidth: 1.5,
            pointRadius: 0,
            fill: false,
            order: 1
        }]
    },
    options: {
        responsive: false,
        animation: false,
        devicePixelRatio: 1,
        layout: { padding: { top: 10, right: 9, left: 0, bottom: 0 } },
        plugins: {
            legend: { display: false },
            tooltip: { enabled: false }
        },
        scales: {
            x: {
                type: 'linear',
                min: 2007.485,
                max: 2017.504,
                afterBuildTicks: function (s) { s.ticks = ticks_x.map(function (v) { return { value: v }; }); },
                afterFit: function (s) { s.height = 53; s.paddingLeft = 0; s.paddingRight = 0; },
                ticks: {
                    color: 'black',
                    font: fonte,
                    padding: 3,
                    maxRotation: 0,
                    callback: function (v) { return String(v); }
                },
                grid: { color: cor_grade, lineWidth: 1, tickColor: 'black', tickLength: 5 },
                border: { display: false },
                title: { display: true, text: 'ds', color: 'black', font: fonte, padding: { top: 0, bottom: 10 } }
            },
            y: {
                min: 4.88,
                max: 13.22,
                afterBuildTicks: function (s) { s.ticks = ticks_y.map(function (v) { return { value: v }; }); },
                afterFit: function (s) { s.width = 57; s.paddingTop = 0; s.paddingBottom = 0; },
                ticks: {
                    color: 'black',
                    font: fonte,
                    padding: 5,
                    callback: function (v) { return String(v); }
                },
                grid: { color: cor_grade, lineWidth: 1, tickColor: 'black', tickLength: 5 },
                border: { display: false },
                title: { display: true, text: 'y', color: 'black', font: fonte, padding: { top: 7, bottom: 0 } }
            }
        }
    },
    plugins: [linhas_mudanca, moldura]
});
</script>
</body>
</html>
